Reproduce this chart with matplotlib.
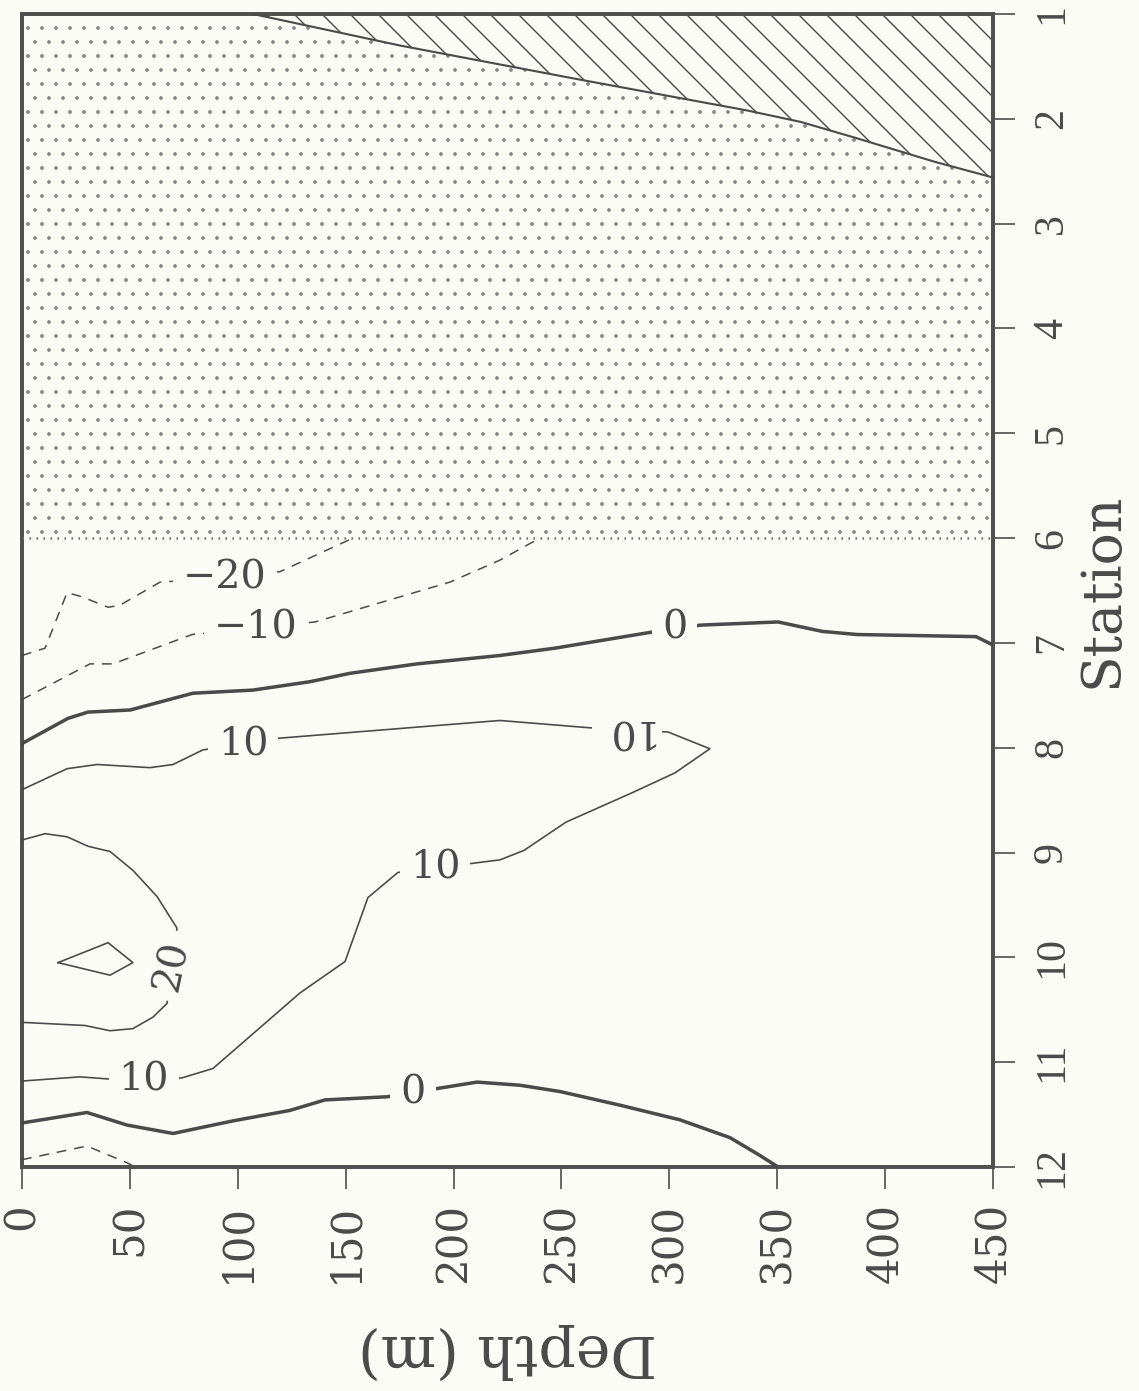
import matplotlib.pyplot as plt
from matplotlib.patches import Polygon, Rectangle

plt.rcParams['lines.scale_dashes'] = False

BG = '#fcfcf7'
INK = '#4a4a4a'
DPI = 168

# axes
station_ticks = list(range(1, 13))
depth_ticks = list(range(0, 451, 50))

# stations 1-6 are stippled (no section data there)
stipple_station = 6

# bottom outline (depth, station) - hatched above it
bottom_depth = [107, 175, 257, 336, 361, 386, 423, 450]
bottom_station = [1.00, 1.30, 1.62, 1.92, 2.03, 2.18, 2.41, 2.56]

# contour lines, depth (m) against station number
m20_depth = [0, 10.7, 20.9, 27.8, 39.9, 45.4, 64.0, 94.0, 119.6, 153.4]
m20_station = [7.12, 7.05, 6.52, 6.56, 6.66, 6.64, 6.42, 6.38, 6.32, 6.00]

m10_depth = [0, 31.5, 42.2, 78.8, 108.4, 135.8, 198.3, 221.5, 240.0]
m10_station = [7.54, 7.20, 7.20, 6.92, 6.86, 6.80, 6.42, 6.21, 6.00]

zero_depth = [0, 21.3, 30.6, 50.1, 79.2, 107.1, 133.5, 152.0, 183.1, 221.5,
              247.0, 291.0, 302.6, 314.7, 350.4, 370.8, 387.0, 442.1, 450]
zero_station = [7.96, 7.72, 7.66, 7.64, 7.48, 7.45, 7.37, 7.29, 7.20, 7.12,
                7.05, 6.90, 6.86, 6.83, 6.80, 6.89, 6.92, 6.94, 7.02]

p10_depth = [0, 20.9, 34.8, 59.3, 70.0, 83.9, 102.4, 118.6, 221.5, 263.2,
             281.3, 299.4, 318.8, 302.6, 282.7, 252.1, 232.6, 221.5, 190.5,
             174.2, 160.3, 149.7, 128.8, 88.5, 74.1, 56.1, 39.9, 26.9, 0]
p10_station = [8.40, 8.20, 8.16, 8.19, 8.16, 8.02, 7.97, 7.91, 7.74, 7.81,
               7.83, 7.85, 8.01, 8.24, 8.43, 8.71, 8.98, 9.07, 9.15,
               9.19, 9.43, 10.04, 10.34, 11.06, 11.15, 11.17, 11.16, 11.14, 11.18]

p20_depth = [0, 10.7, 20.9, 30.6, 40.8, 51.4, 62.6, 71.8, 69.5, 67.2,
             60.7, 51.4, 40.8, 29.2, 0]
p20_station = [8.88, 8.82, 8.85, 8.94, 8.99, 9.17, 9.42, 9.72, 10.08, 10.44,
               10.57, 10.68, 10.70, 10.65, 10.62]

p30_depth = [16.7, 39.9, 51.4, 40.8, 16.7]
p30_station = [10.05, 9.86, 10.05, 10.17, 10.05]

zero2_depth = [0, 30.1, 48.7, 70.0, 97.8, 124.2, 140.4, 169.2, 181.2, 192.8,
               210.9, 230.8, 249.3, 277.1, 304.9, 328.1, 342.0, 350.4]
zero2_station = [11.58, 11.48, 11.60, 11.68, 11.56, 11.46, 11.36, 11.33, 11.29, 11.25,
                 11.19, 11.22, 11.28, 11.41, 11.55, 11.72, 11.89, 12.00]

m10b_depth = [0, 30.1, 48.7, 52.4]
m10b_station = [11.93, 11.80, 11.96, 12.00]

contours = [
    (-20, m20_depth, m20_station),
    (-10, m10_depth, m10_station),
    (0, zero_depth, zero_station),
    (10, p10_depth, p10_station),
    (20, p20_depth, p20_station),
    (30, p30_depth, p30_station),
    (0, zero2_depth, zero2_station),
    (-10, m10b_depth, m10b_station),
]

# contour labels: level, depth, station, text angle
labels = [
    (-20, 94.1, 6.38, 0),
    (-10, 108.4, 6.86, 0),
    (0, 302.4, 6.86, 0),
    (10, 102.4, 7.97, 0),
    (10, 280.4, 7.83, 180),
    (10, 191.4, 9.15, 0),
    (20, 69.5, 10.08, 78),
    (10, 56.5, 11.17, 0),
    (0, 181.2, 11.29, 0),
]

fig = plt.figure(figsize=(1139 / DPI, 1391 / DPI), dpi=DPI, facecolor=BG)
ax = fig.add_axes([22 / 1139, 1 - 1167 / 1391, 971 / 1139, 1153 / 1391])
ax.set_facecolor(BG)
ax.set_xlim(0, 450)
ax.set_ylim(12, 1)

# stipple and hatched wedge
plt.rcParams['hatch.linewidth'] = 0.35
ax.add_patch(Rectangle((0, 1), 450, stipple_station - 1, facecolor='none',
                       edgecolor='#858585', lw=0, hatch='..', zorder=1))
plt.rcParams['hatch.linewidth'] = 0.6
wedge = list(zip(bottom_depth, bottom_station)) + [(450, 1)]
ax.add_patch(Polygon(wedge, closed=True, facecolor=BG, edgecolor=INK,
                     lw=0, hatch='\\\\', zorder=2))
ax.plot(bottom_depth, bottom_station, color=INK, lw=0.9, zorder=3)
ax.axhline(stipple_station, color='#666666', lw=1.1, ls=(0, (0.6, 2.4)), zorder=3)

for level, d, s in contours:
    if level == 0:
        ax.plot(d, s, color=INK, lw=1.5, zorder=4)
    elif level < 0:
        ax.plot(d, s, color=INK, lw=0.65, dashes=(4.2, 3.4), zorder=4)
    else:
        ax.plot(d, s, color=INK, lw=0.7, zorder=4)

for level, d, s, rot in labels:
    txt = str(level).replace('-', '\u2212')
    ax.text(d, s, txt, rotation=rot, ha='center', va='center', fontsize=17,
            family='DejaVu Serif', color=INK, zorder=5,
            bbox=dict(boxstyle='square,pad=0.25', fc=BG, ec='none'))

ax.set_xticks(depth_ticks)
ax.set_xticklabels([str(v) for v in depth_ticks], rotation=90,
                   fontsize=18, family='DejaVu Serif', color=INK)
ax.yaxis.tick_right()
ax.set_yticks(station_ticks)
ax.set_yticklabels([str(v) for v in station_ticks], rotation=90, va='center',
                   fontsize=18, family='Liberation Serif', color=INK)
ax.tick_params(axis='x', direction='out', length=9.4, width=0.7, pad=6,
               color=INK, top=False)
ax.tick_params(axis='y', direction='out', length=9.4, width=0.7, pad=7.5,
               color=INK, left=False, right=True)

ax.set_xlabel('Depth (m)', rotation=180, fontsize=25, family='DejaVu Serif', color=INK)
ax.xaxis.set_label_coords(0.5, -0.135)
ax.yaxis.set_label_position('right')
ax.set_ylabel('Station', fontsize=23, family='DejaVu Serif', color=INK)
ax.yaxis.set_label_coords(1.086, 0.5)

for sp in ax.spines.values():
    sp.set_linewidth(1.7)
    sp.set_color('#505050')

fig.savefig('out.png', dpi=DPI, facecolor=BG)
